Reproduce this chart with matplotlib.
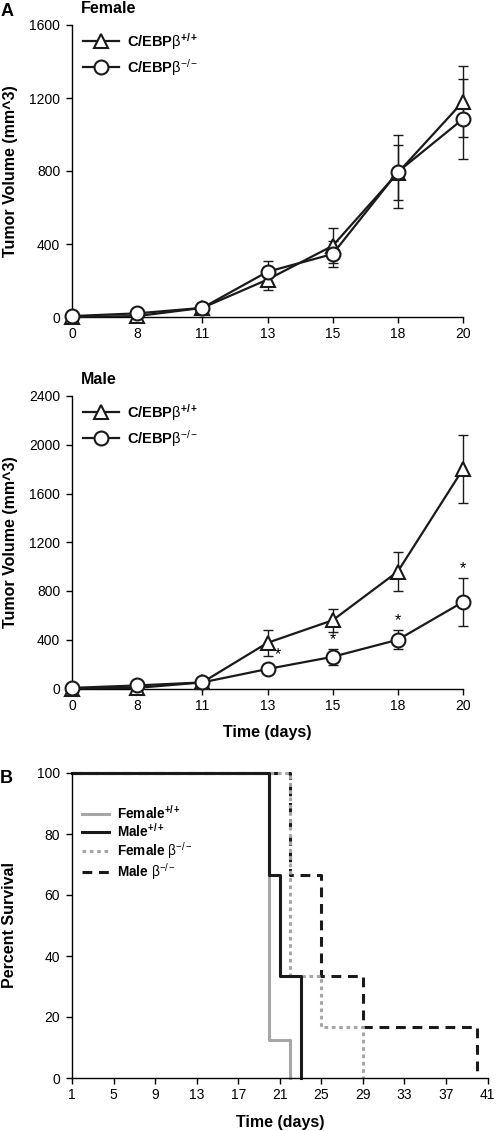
import numpy as np
import matplotlib.pyplot as plt

plt.rcParams['font.family'] = ['Liberation Sans', 'DejaVu Sans']
plt.rcParams['mathtext.fontset'] = 'custom'
plt.rcParams['mathtext.rm'] = 'Liberation Sans'
plt.rcParams['mathtext.bf'] = 'Liberation Sans:bold'
plt.rcParams['mathtext.it'] = 'Liberation Sans:italic'

# --- data ---
days = ['0', '8', '11', '13', '15', '18', '20']

fem_wt = [0, 5, 50, 205, 390, 790, 1180]
fem_wt_err = [5, 10, 25, 55, 95, 150, 195]
fem_ko = [5, 20, 50, 248, 345, 795, 1085]
fem_ko_err = [5, 15, 25, 60, 70, 200, 220]

male_wt = [0, 5, 50, 375, 560, 960, 1800]
male_wt_err = [5, 10, 40, 105, 95, 160, 280]
male_ko = [5, 25, 50, 160, 260, 400, 710]
male_ko_err = [5, 10, 20, 40, 65, 78, 200]
male_sig = [3, 4, 5, 6]  # indices with *

surv_t = {
    'fwt': [1, 20, 22],
    'mwt': [1, 20, 21, 23],
    'fko': [1, 22, 25, 29],
    'mko': [1, 22, 25, 29, 40],
}
surv_p = {
    'fwt': [100, 12.5, 0],
    'mwt': [100, 66.7, 33.3, 0],
    'fko': [100, 33.3, 16.7, 0],
    'mko': [100, 66.7, 33.3, 16.7, 0],
}

lab_wt = r'$\mathbf{C/EBP}\mathrm{\beta}^{\mathbf{+/+}}$'
lab_ko = r'$\mathbf{C/EBP}\mathrm{\beta}^{-/-}$'

W, H = 498, 1131
fig = plt.figure(figsize=(W / 100, H / 100), dpi=100)
black = '#1a1a1a'


def px_axes(x0, x1, ytop, ybot):
    return fig.add_axes([x0 / W, 1 - ybot / H, (x1 - x0) / W, (ybot - ytop) / H])


def style(ax, xl, yl, xlab_y, ylab_x):
    for s in ['top', 'right']:
        ax.spines[s].set_visible(False)
    for s in ['left', 'bottom']:
        ax.spines[s].set_linewidth(1.0)
    ax.tick_params(direction='out', length=4.5, width=1, labelsize=10)
    ax.tick_params(axis='x', pad=3)
    ax.tick_params(axis='y', pad=4)
    if xl:
        ax.set_xlabel(xl, fontsize=11.5, fontweight='bold')
        ax.xaxis.set_label_coords(0.5, xlab_y)
    ax.set_ylabel(yl, fontsize=11.5, fontweight='bold')
    ax.yaxis.set_label_coords(ylab_x, 0.5)


def growth(ax, wt, wt_err, ko, ko_err, ymax, title, xl=None):
    x = np.arange(len(days))
    ekw = dict(fmt='none', ecolor=black, elinewidth=1.0, capsize=3.5,
               capthick=1.0, clip_on=False, zorder=2)
    ax.errorbar(x, wt, yerr=wt_err, **ekw)
    ax.errorbar(x, ko, yerr=ko_err, **ekw)
    kw = dict(color=black, lw=1.6, ms=10, mfc='white', mew=1.5, clip_on=False)
    ax.plot(x, wt, marker='^', label=lab_wt, zorder=3, **kw)
    ax.plot(x, ko, marker='o', label=lab_ko, zorder=4, **kw)
    ax.set_xlim(0, len(days) - 1)
    ax.set_ylim(0, ymax)
    ax.set_xticks(x)
    ax.set_xticklabels(days)
    ax.set_yticks(np.arange(0, ymax + 1, 400))
    style(ax, xl, 'Tumor Volume (mm^3)', -0.125, -0.138)
    ax.text(0.023, 1 + 12 / 292, title, transform=ax.transAxes, fontsize=11.5,
            fontweight='bold', va='baseline')
    ax.legend(loc='upper left', bbox_to_anchor=(0.028, 0.98), frameon=False,
              fontsize=10.5, handlelength=2.5, handletextpad=0.55,
              labelspacing=0.36, borderaxespad=0, borderpad=0)
    return ax


ax1 = px_axes(72, 463, 25, 317)
growth(ax1, fem_wt, fem_wt_err, fem_ko, fem_ko_err, 1600, 'Female')
fig.text(1 / W, 1 - 15.5 / H, 'A', fontsize=13, fontweight='bold', va='baseline')

ax2 = px_axes(72, 463, 396, 688.5)
growth(ax2, male_wt, male_wt_err, male_ko, male_ko_err, 2400, 'Male',
       xl='Time (days)')
for i in male_sig:
    dx = 0.16 if i == 3 else 0.0
    ax2.text(i + dx, male_ko[i] + male_ko_err[i] + 15, '*', ha='center',
             va='bottom', fontsize=11.5)

# --- survival ---
ax3 = px_axes(72, 487.5, 773, 1078)
gray = '#a6a6a6'
ax3.step(surv_t['mko'], surv_p['mko'], where='post', color=black, lw=2.2,
         ls=(0, (3.2, 2.2)), label=r'Male $\mathrm{\beta}^{-/-}$', clip_on=False)
ax3.step(surv_t['fko'], surv_p['fko'], where='post', color=gray, lw=2.2,
         ls=(0, (1.2, 1.2)), label=r'Female $\mathrm{\beta}^{-/-}$', clip_on=False)
ax3.step(surv_t['fwt'], surv_p['fwt'], where='post', color=gray, lw=2.2,
         label=r'Female$^{\mathbf{+/+}}$', clip_on=False)
ax3.step(surv_t['mwt'], surv_p['mwt'], where='post', color=black, lw=2.2,
         label=r'Male$^{\mathbf{+/+}}$', clip_on=False)
ax3.set_xlim(1, 41)
ax3.set_ylim(0, 100)
ax3.set_xticks(np.arange(1, 42, 4))
ax3.set_yticks(np.arange(0, 101, 20))
style(ax3, 'Time (days)', 'Percent Survival', -0.121, -0.132)
h, l = ax3.get_legend_handles_labels()
order = [2, 3, 1, 0]
ax3.legend([h[i] for i in order], [l[i] for i in order], loc='upper left',
           bbox_to_anchor=(0.0, 0.93), frameon=False,
           handlelength=2.0, handletextpad=0.6, labelspacing=0.02,
           borderaxespad=0.3, prop={'weight': 'bold', 'size': 9.8})
fig.text(0 / W, 1 - 783 / H, 'B', fontsize=13, fontweight='bold', va='baseline')

fig.savefig('out.png', dpi=100)
